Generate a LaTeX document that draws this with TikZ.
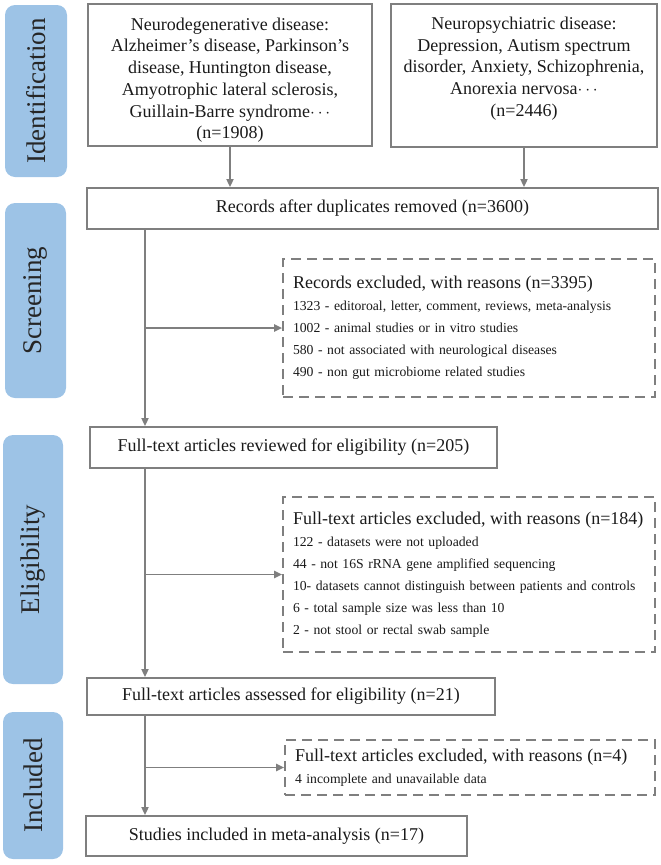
\documentclass[tikz,border=0pt]{standalone}
\usepackage{fontspec}
\setmainfont{Liberation Serif}
\usetikzlibrary{arrows.meta}
\definecolor{linha}{HTML}{7F7F7F}
\definecolor{azuletapa}{HTML}{9DC3E6}
\definecolor{texto}{HTML}{1A1A1A}

\begin{document}
\begin{tikzpicture}[x=1pt, y=-1pt,
    every node/.style={text=texto, font=\fontsize{18}{21.7}\selectfont},
    caixa/.style={draw=linha, line width=1.8pt, align=center, inner sep=0pt},
    exclusao/.style={draw=linha, line width=1.6pt, dash pattern=on 10pt off 6pt,
        inner xsep=10pt, inner ysep=0pt, align=left, font=\fontsize{13.7}{22}\selectfont},
    etapa/.style={fill=azuletapa, rounded corners=10pt, rotate=90, inner sep=0pt,
        text=black!85, font=\fontsize{27}{30}\selectfont},
    seta/.style={draw=linha, line width=1.8pt, -{Triangle[length=8pt,width=7pt]}}]

    \useasboundingbox (0,0) rectangle (661,865);

    % Etapas (coluna da esquerda)
    \node[etapa, minimum width=172pt, minimum height=62pt] (idf) at (36,91)     {Identification};
    \node[etapa, minimum width=195pt, minimum height=61pt] (scr) at (35.5,300.5) {Screening};
    \node[etapa, minimum width=249pt, minimum height=60pt] (elg) at (33,559.5)   {Eligibility};
    \node[etapa, minimum width=147pt, minimum height=60pt] (inc) at (33,785.5)   {Included};

    % --- Identificação
    \node[caixa, minimum width=284pt, minimum height=142pt] (neuro) at (230,75)
        {\strut\\[-14pt] Neurodegenerative disease:\\ Alzheimer’s disease, Parkinson’s\\ disease, Huntington disease,\\
         Amyotrophic lateral sclerosis,\\ Guillain-Barre syndrome\(\cdots\)\\ (n=1908)};
    \node[caixa, minimum width=266pt, minimum height=143pt] (psych) at (524,75.5)
        {\strut\\[-14pt] Neuropsychiatric disease:\\ Depression, Autism spectrum\\ disorder, Anxiety, Schizophrenia,\\
         Anorexia nervosa\(\cdots\)\\ (n=2446)\\ \strut};

    % --- Triagem
    \node[caixa, minimum width=571pt, minimum height=41pt] (registos) at (372.5,208.5)
        {Records after duplicates removed (n=3600)};
    \node[exclusao, text width=352pt, minimum height=138pt] (excl1) at (469,328)
        {{\fontsize{18}{22}\selectfont Records excluded, with reasons (n=3395)}\\
         1323 - editoroal, letter, comment, reviews, meta-analysis\\
         1002 - animal studies or in vitro studies\\
         580 - not associated with neurological diseases\\
         490 - non gut microbiome related studies};

    % --- Elegibilidade
    \node[caixa, minimum width=407pt, minimum height=41pt] (revistos) at (293.5,447.5)
        {Full-text articles reviewed for eligibility (n=205)};
    \node[exclusao, text width=352pt, minimum height=155pt] (excl2) at (469,574.5)
        {{\fontsize{18}{22}\selectfont Full-text articles excluded, with reasons (n=184)}\\
         122 - datasets were not uploaded\\
         44 - not 16S rRNA gene amplified sequencing\\
         10- datasets cannot distinguish between patients and controls\\
         6 - total sample size was less than 10\\
         2 - not stool or rectal swab sample};
    \node[caixa, minimum width=408pt, minimum height=37pt] (avaliados) at (291,696.5)
        {Full-text articles assessed for eligibility (n=21)};

    % --- Incluídos
    \node[exclusao, text width=350pt, minimum height=55pt] (excl3) at (470,767.5)
        {{\fontsize{18}{22}\selectfont Full-text articles excluded, with reasons (n=4)}\\
         4 incomplete and unavailable data};
    \node[caixa, minimum width=381pt, minimum height=40pt] (incluidos) at (276.5,836)
        {Studies included in meta-analysis (n=17)};

    % Setas
    \coordinate (tronco) at (145,0);
    \draw[seta] (neuro.south) -- (neuro.south |- registos.north);
    \draw[seta] (psych.south) -- (psych.south |- registos.north);
    \draw[seta] (registos.south -| tronco) -- (revistos.north -| tronco);
    \draw[seta] (tronco |- excl1.west) -- (excl1.west);
    \draw[seta] (revistos.south -| tronco) -- (avaliados.north -| tronco);
    \draw[seta] (tronco |- excl2.west) -- (excl2.west);
    \draw[seta] (avaliados.south -| tronco) -- (incluidos.north -| tronco);
    \draw[seta] (tronco |- excl3.west) -- (excl3.west);
\end{tikzpicture}
\end{document}
